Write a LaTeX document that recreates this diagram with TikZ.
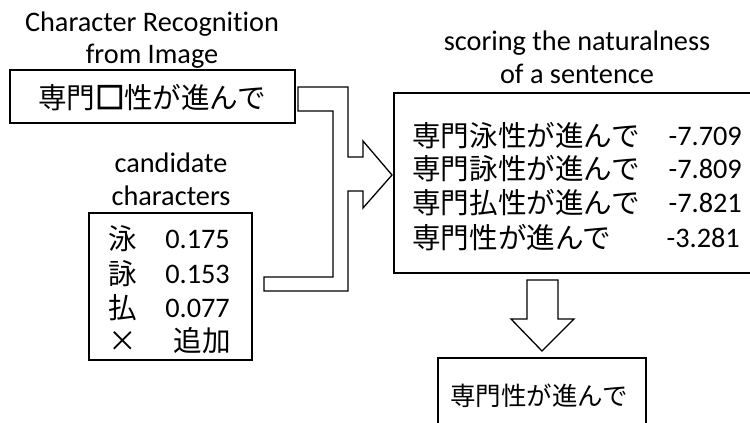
\documentclass[tikz,border=0pt]{standalone}
\usepackage{fontspec}
\setmainfont[Ligatures=NoCommon]{Carlito}
\newfontfamily\jp{Noto Sans CJK JP}
\newfontfamily\jpbold[FakeBold=6]{Noto Sans CJK JP}
\begin{document}
\begin{tikzpicture}[x=1pt,y=-1pt,
  box/.style={draw, line width=1.3pt},
  lbl/.style={inner sep=0pt, anchor=base, font=\fontsize{28.3}{34}\selectfont},
  jtxt/.style={inner sep=0pt, font=\jp\fontsize{28.6}{34}\selectfont},
  num/.style={inner sep=0pt, anchor=base east, font=\fontsize{28.3}{34}\selectfont},
  blockarrow/.style={draw, line width=1.3pt, line join=miter, fill=white}]
\useasboundingbox (0,0) rectangle (750,423);
% titles
\node[lbl] (t1a) at (152,31) {Character Recognition};
\node[lbl] (t1b) at (152,63) {from Image};
\node[lbl] (t2a) at (171,172) {candidate};
\node[lbl] (t2b) at (171,205) {characters};
\node[lbl] (t3a) at (577,50) {scoring the naturalness};
\node[lbl] (t3b) at (577,83) {of a sentence};
% top box
\draw[box] (10,70) rectangle (295,123);
\node[jtxt, anchor=base] (img) at (152,108) {専門{\jpbold □}性が進んで};
% candidate box
\draw[box] (89,213) rectangle (252,360);
\node[jtxt, anchor=base] (c1) at (123,249) {泳};
\node[jtxt, anchor=base] (c2) at (123,284) {詠};
\node[jtxt, anchor=base] (c3) at (123,318) {払};
\node[jtxt, anchor=base] (c4) at (123,351) {×};
\node[num] (n1) at (230,248) {0.175};
\node[num] (n2) at (230,283) {0.153};
\node[num] (n3) at (230,317) {0.077};
\node[jtxt, anchor=base east] (n4) at (231,351) {追加};
% score box
\draw[box] (394,93) rectangle (760,273);
\node[jtxt, anchor=base west] (s1) at (412,146) {専門泳性が進んで};
\node[jtxt, anchor=base west] (s2) at (412,179) {専門詠性が進んで};
\node[jtxt, anchor=base west] (s3) at (412,213) {専門払性が進んで};
\node[jtxt, anchor=base west] (s4) at (412,248) {専門性が進んで};
\node[num] (v1) at (742,145) {-7.709};
\node[num] (v2) at (742,178) {-7.809};
\node[num] (v3) at (742,212) {-7.821};
\node[num] (v4) at (740,247) {-3.281};
% result box
\draw[box] (438,358) rectangle (646,440);
\node[jtxt, anchor=base, font=\jp\fontsize{25.5}{30}\selectfont] (res) at (539,405) {専門性が進んで};
% merging block arrow
\draw[blockarrow] (298,87) -- (348,87) -- (348,157) -- (363,157) -- (363,141)
  -- (392,175) -- (363,208) -- (363,191) -- (348,191) -- (348,291)
  -- (264,291) -- (264,277) -- (333,277) -- (333,111) -- (298,111) -- cycle;
% down block arrow
\draw[blockarrow] (527,280) -- (558,280) -- (558,319) -- (574,319) -- (542,351)
  -- (511,319) -- (527,319) -- cycle;
\end{tikzpicture}
\end{document}
